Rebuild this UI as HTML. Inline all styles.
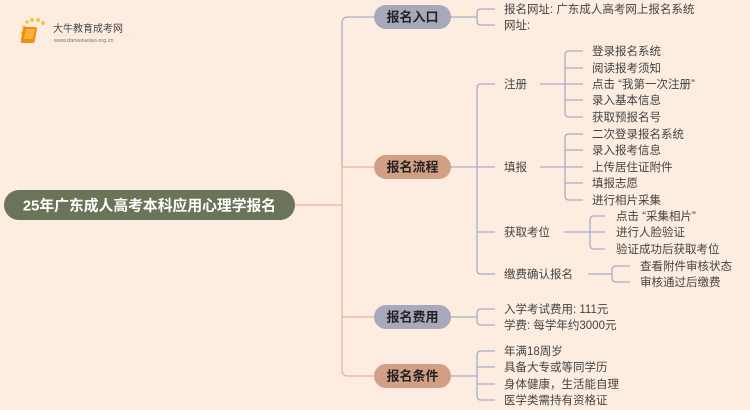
<!DOCTYPE html>
<html><head><meta charset="utf-8"><style>
html,body{margin:0;padding:0;background:#fdede1;}
svg{display:block;}
text{font-family:"Liberation Sans","Noto Sans CJK SC",sans-serif;}
</style></head><body>
<svg width="750" height="410" viewBox="0 0 750 410" xmlns="http://www.w3.org/2000/svg">
<rect width="750" height="410" fill="#fdede1"/>
<g>
<circle cx="24" cy="27" r="1.8" fill="#f5c542"/><circle cx="27" cy="22" r="1.8" fill="#f5c542"/><circle cx="32" cy="20" r="2" fill="#f5c542"/><circle cx="38" cy="20" r="2" fill="#f5c542"/><circle cx="43" cy="23" r="2" fill="#f5c542"/><circle cx="22" cy="33" r="1.5" fill="#f5c542"/><circle cx="23" cy="40" r="1.3" fill="#f5c542"/>
<rect x="28" y="27" width="14" height="16" rx="2" fill="#f08c10" transform="skewX(-10)"/>
<rect x="31" y="29" width="9" height="10" fill="#f7b23d" transform="skewX(-10)"/>
<text x="53" y="32" font-size="10" fill="#444">大牛教育成考网</text>
<line x1="53" y1="35" x2="132" y2="35" stroke="#ddd" stroke-width="0.6"/>
<text x="54" y="42" font-size="5.5" fill="#777">www.daniuxueiao.org.cn</text>
</g>
<g fill="none" stroke-width="1.3">
<path d="M374 17 H348 Q342 17 342 23 V167" stroke="#a8acc8"/>
<path d="M295 205 H342 M342 160 V370 Q342 376 348 376 H374 M342 167 H374 M342 317 H374" stroke="#e5b79d"/>
<g stroke="#a8acc8">
<path d="M451 17 H477 M495 9 H481 Q477 9 477 13 V21 Q477 25 481 25 H495"/>
<path d="M451 167 H495 M495 84 H481 Q477 84 477 88 V270 Q477 274 481 274 H495 M477 232 H495"/>
<path d="M451 317 H477 M495 309 H481 Q477 309 477 313 V321 Q477 325 481 325 H495"/>
<path d="M451 376 H477 M495 351 H481 Q477 351 477 355 V396 Q477 400 481 400 H495 M477 367 H495 M477 384 H495"/>
<path d="M540 84 H583 M583 51 H569 Q565 51 565 55 V113 Q565 117 569 117 H583 M565 68 H583 M565 100 H583"/>
<path d="M540 167 H583 M583 134 H569 Q565 134 565 138 V196 Q565 200 569 200 H583 M565 150 H583 M565 183 H583"/>
<path d="M564 232 H605 M605 216 H594 Q590 216 590 220 V245 Q590 249 594 249 H605"/>
<path d="M588 274 H612 M630 266 H616 Q612 266 612 270 V278 Q612 282 616 282 H630"/>
</g>
</g>
<rect x="4" y="190" width="291" height="30" rx="15" fill="#6b7358"/>
<text x="149.5" y="210.5" font-size="14.8" font-weight="bold" fill="#fff" text-anchor="middle">25年广东成人高考本科应用心理学报名</text>
<rect x="374" y="5" width="77" height="24" rx="12" fill="#a8a8bc"/>
<text x="412.5" y="21.7" font-size="13" font-weight="bold" fill="#222" text-anchor="middle">报名入口</text>
<rect x="374" y="155" width="77" height="24" rx="12" fill="#d29f84"/>
<text x="412.5" y="171.7" font-size="13" font-weight="bold" fill="#222" text-anchor="middle">报名流程</text>
<rect x="374" y="305" width="77" height="24" rx="12" fill="#a8a8bc"/>
<text x="412.5" y="321.7" font-size="13" font-weight="bold" fill="#222" text-anchor="middle">报名费用</text>
<rect x="374" y="364" width="77" height="24" rx="12" fill="#d29f84"/>
<text x="412.5" y="380.7" font-size="13" font-weight="bold" fill="#222" text-anchor="middle">报名条件</text>
<g font-size="11.5" fill="#444">
<text x="504" y="13">报名网址: 广东成人高考网上报名系统</text>
<text x="504" y="29">网址:</text>
<text x="504" y="88">注册</text>
<text x="504" y="171">填报</text>
<text x="504" y="236">获取考位</text>
<text x="504" y="278">缴费确认报名</text>
<text x="592" y="55">登录报名系统</text>
<text x="592" y="72">阅读报考须知</text>
<text x="592" y="88">点击 “我第一次注册”</text>
<text x="592" y="104">录入基本信息</text>
<text x="592" y="121">获取预报名号</text>
<text x="592" y="138">二次登录报名系统</text>
<text x="592" y="154">录入报考信息</text>
<text x="592" y="171">上传居住证附件</text>
<text x="592" y="187">填报志愿</text>
<text x="592" y="204">进行相片采集</text>
<text x="616" y="220">点击 “采集相片”</text>
<text x="616" y="236">进行人脸验证</text>
<text x="616" y="253">验证成功后获取考位</text>
<text x="640" y="270">查看附件审核状态</text>
<text x="640" y="286">审核通过后缴费</text>
<text x="504" y="313">入学考试费用: 111元</text>
<text x="504" y="329">学费: 每学年约3000元</text>
<text x="504" y="355">年满18周岁</text>
<text x="504" y="371">具备大专或等同学历</text>
<text x="504" y="388">身体健康，生活能自理</text>
<text x="504" y="404">医学类需持有资格证</text>
</g>
</svg>
</body></html>
